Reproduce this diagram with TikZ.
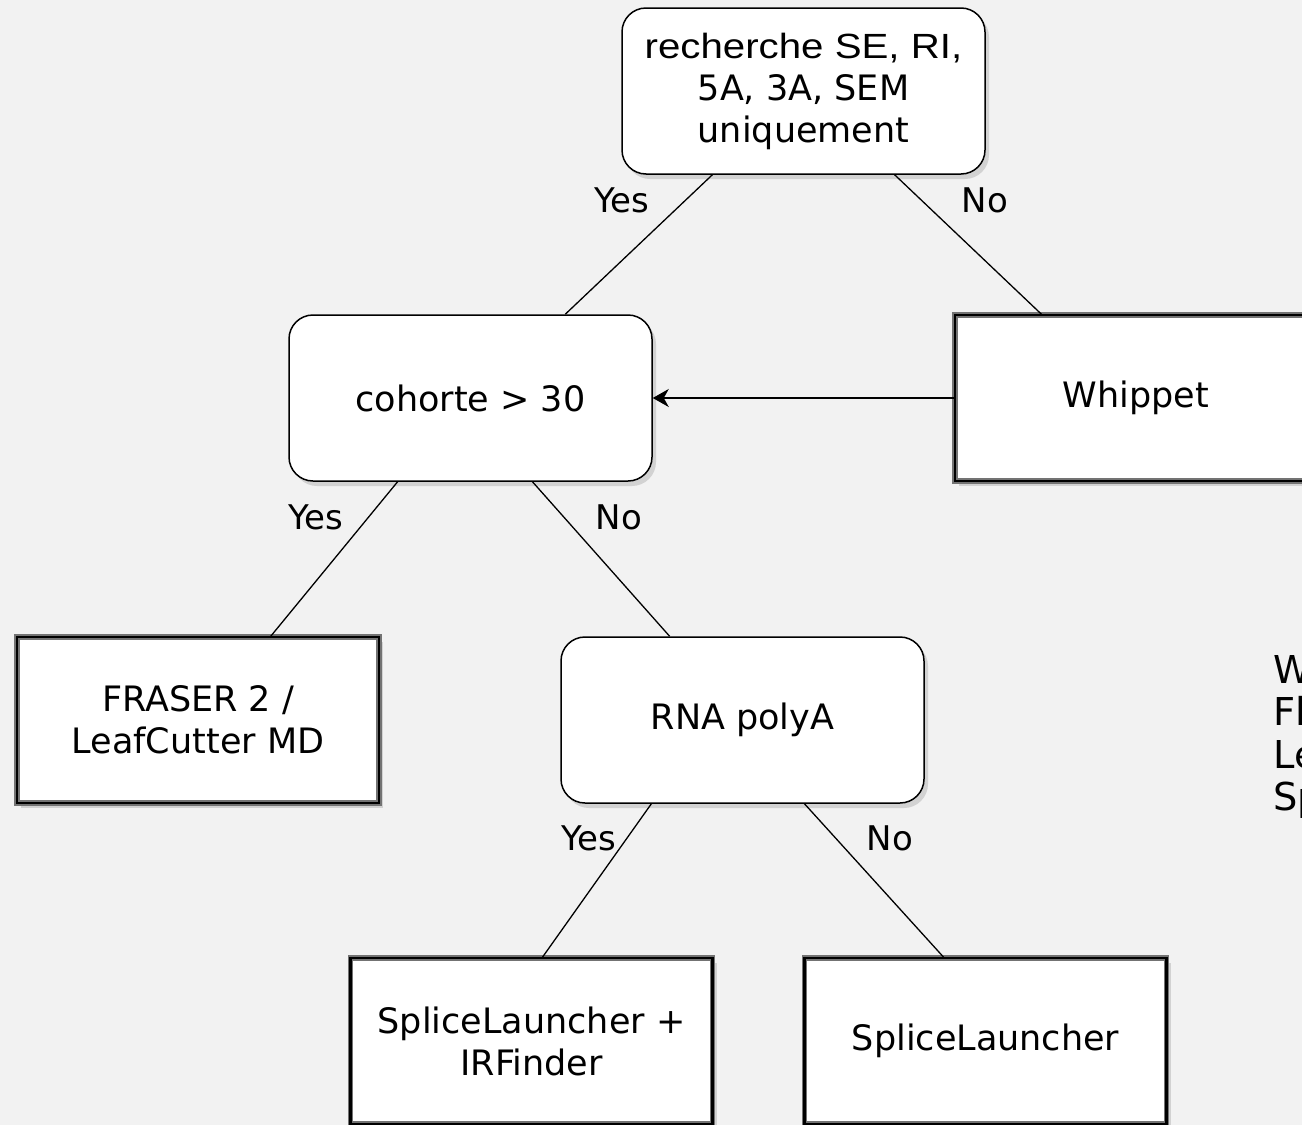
\documentclass[tikz,border=0pt]{standalone}
\usepackage{fontspec}
\setmainfont{DejaVu Sans}
\newfontfamily\recfont[FakeStretch=1.15]{Liberation Sans}
\usetikzlibrary{arrows.meta,calc,shadows}
\definecolor{bggray}{HTML}{F2F2F2}
\tikzset{
  boxshadow/.style={drop shadow={opacity=0.28,shadow xshift=2pt,shadow yshift=-2.5pt}},
  decision/.style={draw=black,line width=0.75pt,rounded corners=12pt,fill=white,
    minimum width=181.5pt,minimum height=83pt,align=center,boxshadow,
    font=\fontsize{17.5}{21}\selectfont},
  tool/.style={draw=black!55,double=black,double distance=1.3pt,line width=0.7pt,fill=white,
    minimum width=181pt,minimum height=83pt,align=center,boxshadow,
    font=\fontsize{17.5}{21}\selectfont},
  answer/.style={font=\fontsize{17}{20}\selectfont,inner sep=0pt},
  link/.style={line width=0.65pt}
}

\begin{document}
\begin{tikzpicture}[x=0.5pt,y=-0.5pt]
    % Page, background
    \useasboundingbox (0,0) rectangle (1302,1125);
    \fill[bggray] (0,0) rectangle (1302,1125);
    \clip (0,0) rectangle (1302,1125);
    % Boxes
    \node[decision] (search) at (803.5,91) {\recfont\fontsize{17.5}{22.5}\selectfont recherche SE, RI,\\5A, 3A, SEM\\uniquement};
    \node[decision] (cohort) at (470.5,398) {cohorte > 30};
    \node[tool] (whippet) at (1136,398) {Whippet};
    \node[tool] (fraser) at (198,720) {FRASER 2 /\\LeafCutter MD};
    \node[decision] (polya) at (742.5,720) {RNA polyA};
    \node[tool] (slir) at (531.5,1041) {SpliceLauncher +\\IRFinder};
    \node[tool] (sl) at (985.5,1041) {SpliceLauncher};
    % Connectors
    \draw[link] ($(search.south west)!0.25!(search.south east)$) -- ($(cohort.north west)!0.76!(cohort.north east)$);
    \draw[link] ($(search.south west)!0.75!(search.south east)$) -- ($(whippet.north west)!0.24!(whippet.north east)$);
    \draw[link,-{Stealth[length=8pt,width=9pt,inset=2.5pt]}] (whippet.west) -- (cohort.east);
    \draw[link] ($(cohort.south west)!0.3!(cohort.south east)$) -- ($(fraser.north west)!0.7!(fraser.north east)$);
    \draw[link] ($(cohort.south west)!0.67!(cohort.south east)$) -- ($(polya.north west)!0.3!(polya.north east)$);
    \draw[link] ($(polya.south west)!0.25!(polya.south east)$) -- ($(slir.north west)!0.53!(slir.north east)$);
    \draw[link] ($(polya.south west)!0.67!(polya.south east)$) -- ($(sl.north west)!0.385!(sl.north east)$);
    % Labels
    \node[answer] (yes1) at (622,200) {Yes};
    \node[answer] (no1) at (985,200) {No};
    \node[answer] (yes2) at (316,517) {Yes};
    \node[answer] (no2) at (619,517) {No};
    \node[answer] (yes3) at (589,838) {Yes};
    \node[answer] (no3) at (890,838) {No};
    % Text cut at the right edge
    \node[anchor=north west,inner sep=0pt,align=left,font=\fontsize{19.2}{21.2}\selectfont] (side) at (1273,655) {W\\Fl\\Le\\Sp};
\end{tikzpicture}
\end{document}
